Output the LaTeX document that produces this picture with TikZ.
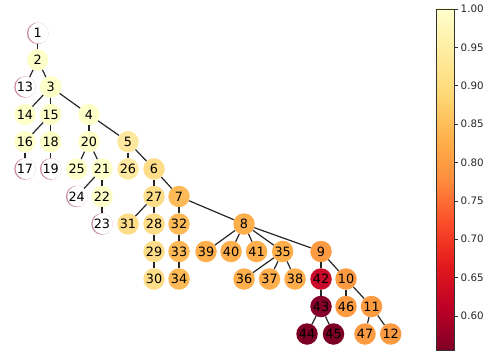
\documentclass[tikz,border=0pt]{standalone}
\usepackage{fontspec}
\setmainfont{DejaVu Sans}
\definecolor{cA}{HTML}{FFFFCA}
\definecolor{cB}{HTML}{FEE8A0}
\definecolor{cC}{HTML}{FEDD88}
\definecolor{cD}{HTML}{FDBA56}
\definecolor{cE}{HTML}{FEAE4B}
\definecolor{cF}{HTML}{FD9B43}
\definecolor{cG}{HTML}{C90A2B}
\definecolor{cH}{HTML}{85002A}
\definecolor{cI}{HTML}{7C0026}
\definecolor{ringc}{HTML}{C98AA4}
\definecolor{s1}{HTML}{FFFFCC}
\definecolor{s2}{HTML}{FFEDA0}
\definecolor{s3}{HTML}{FED976}
\definecolor{s4}{HTML}{FEB24C}
\definecolor{s5}{HTML}{FD8D3C}
\definecolor{s6}{HTML}{FC4E2A}
\definecolor{s7}{HTML}{E31A1C}
\definecolor{s8}{HTML}{BD0026}
\definecolor{s9}{HTML}{800026}
\begin{document}
\begin{tikzpicture}[x=1pt,y=-1pt,
  nd/.style={circle, minimum size=21.5pt, inner sep=0pt, font=\fontsize{12.8}{13}\selectfont, text=black},
  hollow/.style={nd, fill=ringc, path picture={\fill[white] ([xshift=1pt,yshift=0.2pt]path picture bounding box.center) circle (10.4pt);}},
  lnk/.style={draw=black!85, line width=1.2pt},
  tick/.style={draw=black!80, line width=0.6pt},
  ticklab/.style={anchor=west, inner sep=0pt, font=\fontsize{10.3}{11}\selectfont, text=black!85}]
\useasboundingbox (0,0) rectangle (494,358);
% nodes
\node[hollow] (n1) at (37.7,33.3) {1};
\node[nd,fill=cA] (n2) at (37.7,60) {2};
\node[hollow] (n13) at (25,87) {13};
\node[nd,fill=cA] (n3) at (50.7,87) {3};
\node[nd,fill=cA] (n14) at (25,114.5) {14};
\node[nd,fill=cA] (n15) at (50.7,114.5) {15};
\node[nd,fill=cA] (n4) at (89,114.5) {4};
\node[nd,fill=cA] (n16) at (25,141.7) {16};
\node[nd,fill=cA] (n18) at (50.7,141.7) {18};
\node[nd,fill=cA] (n20) at (89,141.7) {20};
\node[nd,fill=cB] (n5) at (128,141.7) {5};
\node[hollow] (n17) at (25,169) {17};
\node[hollow] (n19) at (50.7,169) {19};
\node[nd,fill=cA] (n25) at (76.7,169) {25};
\node[nd,fill=cA] (n21) at (102,169) {21};
\node[nd,fill=cB] (n26) at (128,169) {26};
\node[nd,fill=cC] (n6) at (154,169) {6};
\node[hollow] (n24) at (76.7,196.5) {24};
\node[nd,fill=cA] (n22) at (102,196.5) {22};
\node[nd,fill=cC] (n27) at (154,196.5) {27};
\node[nd,fill=cD] (n7) at (179,196.5) {7};
\node[hollow] (n23) at (102,224) {23};
\node[nd,fill=cC] (n31) at (128,224) {31};
\node[nd,fill=cC] (n28) at (154,224) {28};
\node[nd,fill=cD] (n32) at (179,224) {32};
\node[nd,fill=cE] (n8) at (244,224) {8};
\node[nd,fill=cC] (n29) at (154,251.5) {29};
\node[nd,fill=cD] (n33) at (179,251.5) {33};
\node[nd,fill=cE] (n39) at (206,251.5) {39};
\node[nd,fill=cE] (n40) at (231,251.5) {40};
\node[nd,fill=cE] (n41) at (256.5,251.5) {41};
\node[nd,fill=cE] (n35) at (282.7,251.5) {35};
\node[nd,fill=cF] (n9) at (321,251.5) {9};
\node[nd,fill=cC] (n30) at (154,279) {30};
\node[nd,fill=cD] (n34) at (179,279) {34};
\node[nd,fill=cE] (n36) at (244,279) {36};
\node[nd,fill=cE] (n37) at (269.5,279) {37};
\node[nd,fill=cE] (n38) at (295,279) {38};
\node[nd,fill=cG] (n42) at (321,279) {42};
\node[nd,fill=cF] (n10) at (346,279) {10};
\node[nd,fill=cH] (n43) at (321,306.5) {43};
\node[nd,fill=cF] (n46) at (346,306.5) {46};
\node[nd,fill=cF] (n11) at (371.5,306.5) {11};
\node[nd,fill=cI] (n44) at (307,334) {44};
\node[nd,fill=cI] (n45) at (333.5,334) {45};
\node[nd,fill=cF] (n47) at (365,334) {47};
\node[nd,fill=cF] (n12) at (390.7,334) {12};
% edges
\foreach \a/\b in {1/2,2/13,2/3,3/14,3/15,3/4,15/16,15/18,16/17,18/19,4/20,4/5,
  20/25,20/21,21/24,21/22,22/23,5/26,5/6,6/27,6/7,27/31,27/28,28/29,29/30,
  7/32,32/33,33/34,7/8,8/39,8/40,8/41,8/35,8/9,35/36,35/37,35/38,9/42,9/10,
  42/43,43/44,43/45,10/46,10/11,11/47,11/12}
  \draw[lnk] (n\a) -- (n\b);
% colorbar
\shade[top color=s1,bottom color=s2] (436,9) rectangle (454,51.7);
\shade[top color=s2,bottom color=s3] (436,51.6) rectangle (454,94.3);
\shade[top color=s3,bottom color=s4] (436,94.2) rectangle (454,137);
\shade[top color=s4,bottom color=s5] (436,136.9) rectangle (454,179.6);
\shade[top color=s5,bottom color=s6] (436,179.5) rectangle (454,222.2);
\shade[top color=s6,bottom color=s7] (436,222.1) rectangle (454,264.8);
\shade[top color=s7,bottom color=s8] (436,264.7) rectangle (454,307.5);
\shade[top color=s8,bottom color=s9] (436,307.4) rectangle (454,350);
\draw[black!80, line width=0.7pt] (436,9) rectangle (454,350);
\foreach \v/\lab [count=\i from 0] in {1.00/1.00,0.95/0.95,0.90/0.90,0.85/0.85,0.80/0.80,0.75/0.75,0.70/0.70,0.65/0.65,0.60/0.60}{
  \draw[tick] (454,9+\i*38.36) -- (458,9+\i*38.36);
  \node[ticklab] (t\i) at (460.5,9+\i*38.36) {\lab};
}
\end{tikzpicture}
\end{document}
